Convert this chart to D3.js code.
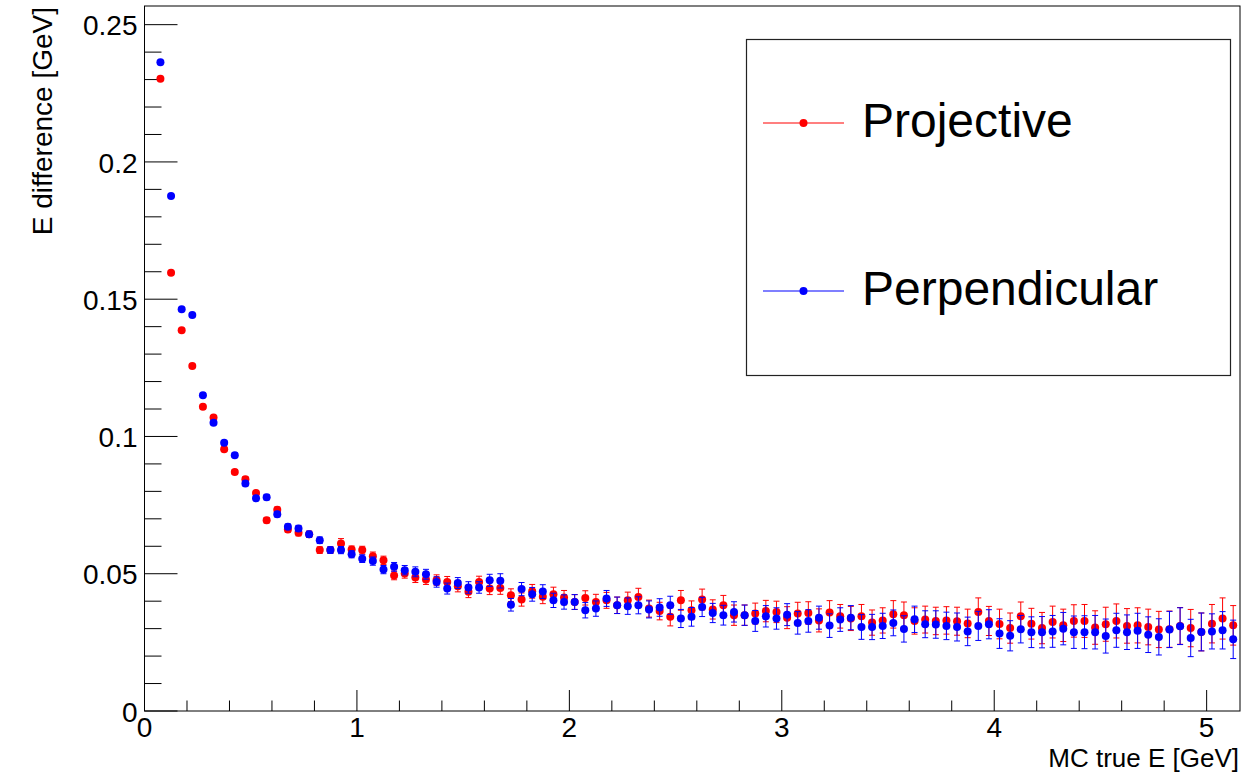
<!DOCTYPE html>
<html>
<head>
<meta charset="utf-8">
<script src="https://cdn.jsdelivr.net/npm/d3@7"></script>
<style>
  html, body { margin: 0; padding: 0; background: #fff; }
  svg { display: block; }
</style>
</head>
<body>
<div id="chart"></div>
<script>
// bin centres of MC true E [GeV]
const energies = [
  0.075, 0.125, 0.175, 0.225, 0.275, 0.325, 0.375, 0.425, 0.475, 0.525,
  0.575, 0.625, 0.675, 0.725, 0.775, 0.825, 0.875, 0.925, 0.975, 1.025,
  1.075, 1.125, 1.175, 1.225, 1.275, 1.325, 1.375, 1.425, 1.475, 1.525,
  1.575, 1.625, 1.675, 1.725, 1.775, 1.825, 1.875, 1.925, 1.975, 2.025,
  2.075, 2.125, 2.175, 2.225, 2.275, 2.325, 2.375, 2.425, 2.475, 2.525,
  2.575, 2.625, 2.675, 2.725, 2.775, 2.825, 2.875, 2.925, 2.975, 3.025,
  3.075, 3.125, 3.175, 3.225, 3.275, 3.325, 3.375, 3.425, 3.475, 3.525,
  3.575, 3.625, 3.675, 3.725, 3.775, 3.825, 3.875, 3.925, 3.975, 4.025,
  4.075, 4.125, 4.175, 4.225, 4.275, 4.325, 4.375, 4.425, 4.475, 4.525,
  4.575, 4.625, 4.675, 4.725, 4.775, 4.825, 4.875, 4.925, 4.975, 5.025,
  5.075, 5.125
];

const projective = [
  0.2303, 0.1596, 0.1387, 0.1257, 0.1108, 0.1069, 0.0953, 0.0871, 0.0844, 0.0794,
  0.0695, 0.0733, 0.0661, 0.0649, 0.0644, 0.0586, 0.0586, 0.0610, 0.0588, 0.0586,
  0.0564, 0.0549, 0.0494, 0.0501, 0.0486, 0.0479, 0.0477, 0.0470, 0.0454, 0.0434,
  0.0470, 0.0446, 0.0448, 0.0422, 0.0406, 0.0436, 0.0416, 0.0425, 0.0413, 0.0397,
  0.0412, 0.0397, 0.0403, 0.0385, 0.0403, 0.0415, 0.0373, 0.0364, 0.0343, 0.0403,
  0.0367, 0.0406, 0.0370, 0.0385, 0.0349, 0.0349, 0.0355, 0.0364, 0.0361, 0.0340,
  0.0355, 0.0357, 0.0330, 0.0359, 0.0345, 0.0337, 0.0345, 0.0322, 0.0330, 0.0352,
  0.0349, 0.0328, 0.0333, 0.0328, 0.0330, 0.0327, 0.0319, 0.0361, 0.0328, 0.0317,
  0.0302, 0.0345, 0.0318, 0.0302, 0.0324, 0.0312, 0.0328, 0.0328, 0.0304, 0.0316,
  0.0328, 0.0310, 0.0312, 0.0306, 0.0297, 0.0298, 0.0310, 0.0302, 0.0288, 0.0318,
  0.0337, 0.0312
];
const projectiveErr = [
  0.0005, 0.0005, 0.0006, 0.0006, 0.0007, 0.0007, 0.0008, 0.0008, 0.0009, 0.0009,
  0.0010, 0.0010, 0.0010, 0.0011, 0.0011, 0.0012, 0.0012, 0.0018, 0.0013, 0.0014,
  0.0015, 0.0015, 0.0016, 0.0017, 0.0018, 0.0018, 0.0019, 0.0020, 0.0020, 0.0021,
  0.0021, 0.0022, 0.0023, 0.0023, 0.0024, 0.0025, 0.0025, 0.0026, 0.0026, 0.0027,
  0.0026, 0.0028, 0.0029, 0.0030, 0.0030, 0.0032, 0.0031, 0.0032, 0.0033, 0.0036,
  0.0034, 0.0038, 0.0035, 0.0036, 0.0037, 0.0037, 0.0038, 0.0039, 0.0039, 0.0040,
  0.0041, 0.0041, 0.0042, 0.0043, 0.0043, 0.0044, 0.0043, 0.0046, 0.0046, 0.0050,
  0.0048, 0.0048, 0.0049, 0.0050, 0.0050, 0.0051, 0.0052, 0.0051, 0.0053, 0.0054,
  0.0055, 0.0052, 0.0056, 0.0057, 0.0058, 0.0059, 0.0059, 0.0060, 0.0061, 0.0062,
  0.0062, 0.0063, 0.0064, 0.0065, 0.0066, 0.0066, 0.0067, 0.0068, 0.0069, 0.0070,
  0.0075, 0.0072
];

const perpendicular = [
  0.2363, 0.1876, 0.1463, 0.1442, 0.1150, 0.1050, 0.0977, 0.0932, 0.0829, 0.0775,
  0.0779, 0.0717, 0.0671, 0.0665, 0.0644, 0.0622, 0.0586, 0.0586, 0.0571, 0.0555,
  0.0546, 0.0515, 0.0525, 0.0513, 0.0507, 0.0498, 0.0470, 0.0446, 0.0466, 0.0450,
  0.0450, 0.0476, 0.0474, 0.0387, 0.0444, 0.0425, 0.0435, 0.0403, 0.0397, 0.0397,
  0.0367, 0.0373, 0.0410, 0.0385, 0.0382, 0.0385, 0.0370, 0.0377, 0.0385, 0.0337,
  0.0343, 0.0379, 0.0357, 0.0349, 0.0361, 0.0349, 0.0328, 0.0345, 0.0337, 0.0351,
  0.0321, 0.0328, 0.0340, 0.0311, 0.0333, 0.0340, 0.0306, 0.0306, 0.0310, 0.0321,
  0.0299, 0.0334, 0.0316, 0.0315, 0.0310, 0.0306, 0.0290, 0.0310, 0.0316, 0.0282,
  0.0274, 0.0298, 0.0287, 0.0287, 0.0290, 0.0300, 0.0287, 0.0287, 0.0287, 0.0273,
  0.0294, 0.0287, 0.0292, 0.0278, 0.0270, 0.0297, 0.0309, 0.0266, 0.0288, 0.0290,
  0.0294, 0.0261
];
const perpendicularErr = [
  0.0005, 0.0006, 0.0006, 0.0006, 0.0007, 0.0007, 0.0008, 0.0008, 0.0009, 0.0009,
  0.0010, 0.0010, 0.0010, 0.0011, 0.0011, 0.0012, 0.0012, 0.0013, 0.0013, 0.0014,
  0.0015, 0.0015, 0.0016, 0.0017, 0.0018, 0.0018, 0.0019, 0.0020, 0.0020, 0.0021,
  0.0021, 0.0022, 0.0026, 0.0023, 0.0024, 0.0025, 0.0025, 0.0026, 0.0026, 0.0027,
  0.0028, 0.0028, 0.0029, 0.0030, 0.0030, 0.0031, 0.0031, 0.0032, 0.0033, 0.0033,
  0.0034, 0.0035, 0.0035, 0.0036, 0.0037, 0.0037, 0.0038, 0.0039, 0.0039, 0.0040,
  0.0041, 0.0041, 0.0042, 0.0043, 0.0043, 0.0044, 0.0045, 0.0046, 0.0046, 0.0047,
  0.0048, 0.0048, 0.0049, 0.0050, 0.0050, 0.0051, 0.0052, 0.0053, 0.0053, 0.0054,
  0.0055, 0.0050, 0.0056, 0.0057, 0.0058, 0.0059, 0.0059, 0.0060, 0.0061, 0.0062,
  0.0062, 0.0063, 0.0064, 0.0065, 0.0066, 0.0066, 0.0067, 0.0068, 0.0069, 0.0064,
  0.0068, 0.0070
];

const seriesNames = ["Projective", "Perpendicular"];
const seriesColors = ["#ff0000", "#0000ff"];
const xTicks = [0, 1, 2, 3, 4, 5];
const yTicks = [0, 0.05, 0.1, 0.15, 0.2, 0.25];

const width = 1241,
    height = 774;
const font = "'Liberation Sans', Arial, Helvetica, sans-serif";

const svg = d3.select("#chart").append("svg")
    .attr("width", width)
    .attr("height", height)
    .style("font-family", font);

const x = d3.scaleLinear().domain([0, 5.157]).range([144.5, 1240]);
const y = d3.scaleLinear().domain([0, 0.2568]).range([711, 6]);

// frame
svg.append("rect")
    .attr("x", x.range()[0])
    .attr("y", y.range()[1])
    .attr("width", x.range()[1] - x.range()[0])
    .attr("height", y.range()[0] - y.range()[1])
    .attr("fill", "none")
    .attr("stroke", "#000")
    .attr("stroke-width", 1);

// y axis, ROOT style: long major ticks, short minor ticks pointing inwards
const yMinor = d3.range(0, 0.2568, 0.01).filter(v => Math.abs(v / 0.05 - Math.round(v / 0.05)) > 1e-6);
const yAxis = svg.append("g")
    .attr("transform", `translate(${x.range()[0]},0)`);
yAxis.selectAll("line.minor").data(yMinor).join("line")
    .attr("class", "minor")
    .attr("x1", 0).attr("x2", 17)
    .attr("y1", d => y(d)).attr("y2", d => y(d))
    .attr("stroke", "#000");
yAxis.selectAll("line.major").data(yTicks).join("line")
    .attr("class", "major")
    .attr("x1", 0).attr("x2", 33)
    .attr("y1", d => y(d)).attr("y2", d => y(d))
    .attr("stroke", "#000");
yAxis.selectAll("text").data(yTicks).join("text")
    .attr("x", -7)
    .attr("y", d => y(d))
    .attr("dy", "0.38em")
    .attr("text-anchor", "end")
    .style("font-size", "28px")
    .text(d => d3.format("~g")(d));

// x axis
const xMinor = d3.range(0.2, 5.157, 0.2).filter(v => Math.abs(v - Math.round(v)) > 1e-6);
const xAxis = svg.append("g")
    .attr("transform", `translate(0,${y.range()[0]})`);
xAxis.selectAll("line.minor").data(xMinor).join("line")
    .attr("class", "minor")
    .attr("y1", 0).attr("y2", -10.5)
    .attr("x1", d => x(d)).attr("x2", d => x(d))
    .attr("stroke", "#000");
xAxis.selectAll("line.major").data(xTicks).join("line")
    .attr("class", "major")
    .attr("y1", 0).attr("y2", -21)
    .attr("x1", d => x(d)).attr("x2", d => x(d))
    .attr("stroke", "#000");
xAxis.selectAll("text").data(xTicks).join("text")
    .attr("x", d => x(d))
    .attr("y", 26)
    .attr("text-anchor", "middle")
    .style("font-size", "28px")
    .text(d => d);

// axis titles
svg.append("text")
    .attr("x", 1239)
    .attr("y", 767)
    .attr("text-anchor", "end")
    .style("font-size", "26px")
    .text("MC true E [GeV]");

svg.append("text")
    .attr("transform", "translate(52,7) rotate(-90)")
    .attr("text-anchor", "end")
    .style("font-size", "28px")
    .text("E difference [GeV]");

// data
const series = [
    {name: seriesNames[0], color: seriesColors[0], values: projective, errors: projectiveErr},
    {name: seriesNames[1], color: seriesColors[1], values: perpendicular, errors: perpendicularErr}
];

const plot = svg.append("g");

series.forEach(function(s) {
    const pts = energies.map((e, i) => ({x: e, y: s.values[i], err: s.errors[i]}));
    const g = plot.append("g")
        .attr("stroke", s.color)
        .attr("fill", s.color);

    g.selectAll("line.bar").data(pts).join("line")
        .attr("class", "bar")
        .attr("x1", d => x(d.x)).attr("x2", d => x(d.x))
        .attr("y1", d => y(d.y - d.err)).attr("y2", d => y(d.y + d.err))
        .attr("stroke-width", 1);
    g.selectAll("line.capHi").data(pts).join("line")
        .attr("class", "capHi")
        .attr("x1", d => x(d.x) - 3).attr("x2", d => x(d.x) + 3)
        .attr("y1", d => y(d.y + d.err)).attr("y2", d => y(d.y + d.err));
    g.selectAll("line.capLo").data(pts).join("line")
        .attr("class", "capLo")
        .attr("x1", d => x(d.x) - 3).attr("x2", d => x(d.x) + 3)
        .attr("y1", d => y(d.y - d.err)).attr("y2", d => y(d.y - d.err));
    g.selectAll("circle").data(pts).join("circle")
        .attr("cx", d => x(d.x))
        .attr("cy", d => y(d.y))
        .attr("r", 4)
        .attr("stroke", "none");
});

// legend
const legend = svg.append("g");
legend.append("rect")
    .attr("x", 746.5)
    .attr("y", 39.5)
    .attr("width", 484)
    .attr("height", 336)
    .attr("fill", "#fff")
    .attr("stroke", "#222")
    .attr("stroke-width", 1.2);

const legendRows = [123, 291];
series.forEach(function(s, i) {
    const row = legend.append("g").attr("transform", `translate(0,${legendRows[i]})`);
    row.append("line")
        .attr("x1", 763).attr("x2", 844)
        .attr("stroke", s.color)
        .attr("stroke-width", 1.2);
    row.append("circle")
        .attr("cx", 803.5)
        .attr("r", 4)
        .attr("fill", s.color);
    row.append("text")
        .attr("x", 862)
        .attr("y", 0)
        .attr("dy", "0.3em")
        .style("font-size", "48px")
        .text(s.name);
});
</script>
</body>
</html>
